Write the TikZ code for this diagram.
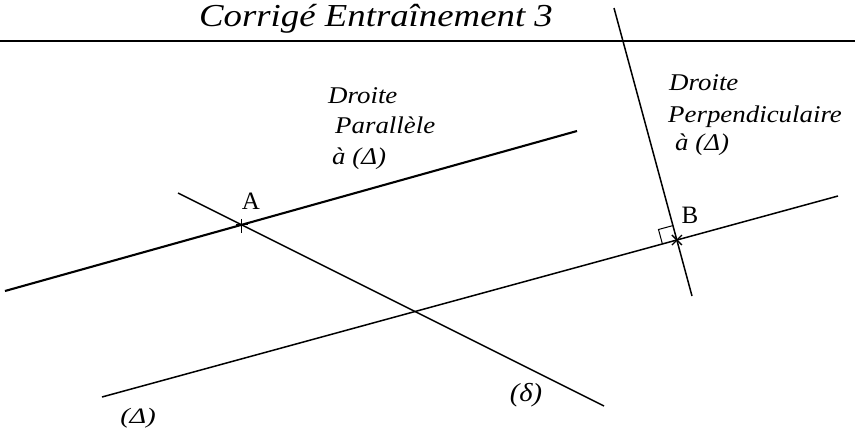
\documentclass[tikz,border=0pt]{standalone}
\usepackage{fontspec}
\setmainfont{Liberation Serif}
\usetikzlibrary{calc,intersections}
\begin{document}
\begin{tikzpicture}[x=1pt,y=-1pt,
  thinline/.style={line width=1.5pt},
  thickline/.style={line width=2.1pt},
  lbl/.style={font=\fontsize{24}{28}\selectfont\itshape, anchor=base west, inner sep=0pt, xscale=1.12},
  ptlbl/.style={font=\fontsize{25}{28}\selectfont, anchor=base, inner sep=0pt}]
\useasboundingbox (0,0) rectangle (855,431);
% title
\node[font=\fontsize{32}{36}\selectfont\itshape, inner sep=0pt, anchor=base, xscale=1.15] (title) at (376,27) {Corrigé Entraînement 3};
\coordinate (r1) at (0,41);
\coordinate (r2) at (855,41);
\draw[thickline] (r1) -- (r2);
% line ends
\coordinate (P1) at (5,291);
\coordinate (P2) at (577,131);
\coordinate (Q1) at (614,8);
\coordinate (Q2) at (692,296);
\coordinate (D1) at (102,397);
\coordinate (D2) at (838,196);
\coordinate (S1) at (178,193);
\coordinate (S2) at (604,406);
\draw[thickline] (P1) -- (P2);
\draw[thinline] (Q1) -- (Q2);
\draw[thinline] (D1) -- (D2);
\draw[thinline] (S1) -- (S2);
% intersection points
\coordinate (A) at (intersection of P1--P2 and S1--S2);
\coordinate (B) at (intersection of Q1--Q2 and D1--D2);
% marks
\draw[line width=1pt] ($(A)+(-6,0)$) -- ($(A)+(6,0)$) ($(A)+(0,-6)$) -- ($(A)+(0,8)$);
\draw[line width=1.3pt] ($(B)+(-5,-5)$) -- ($(B)+(5,5)$) ($(B)+(-5,5)$) -- ($(B)+(5,-5)$);
% right angle
\coordinate (ra1) at ($(B)!15pt!(D1)$);
\coordinate (ra3) at ($(B)!15pt!(Q1)$);
\coordinate (ra2) at ($(ra1)+(ra3)-(B)$);
\draw[line width=1pt] (ra1) -- (ra2) -- (ra3);
% labels
\node[ptlbl] (Alab) at (251,209) {A};
\node[ptlbl] (Blab) at (690,223) {B};
\node[lbl] (par1) at (328,103) {Droite};
\node[lbl] (par2) at (335,133) {Parallèle};
\node[lbl] (par3) at (332,164) {à (Δ)};
\node[lbl] (per1) at (669,90) {Droite};
\node[lbl] (per2) at (668,122) {Perpendiculaire};
\node[lbl] (per3) at (675,150) {à (Δ)};
\node[lbl, font=\fontsize{22}{24}\selectfont\itshape, xscale=1.15] (dlab) at (120,423) {(Δ)};
\node[font=\fontsize{26}{28}\selectfont\itshape, inner sep=0pt, anchor=base, xscale=1.1] (slab) at (526,401) {(δ)};
\end{tikzpicture}
\end{document}
